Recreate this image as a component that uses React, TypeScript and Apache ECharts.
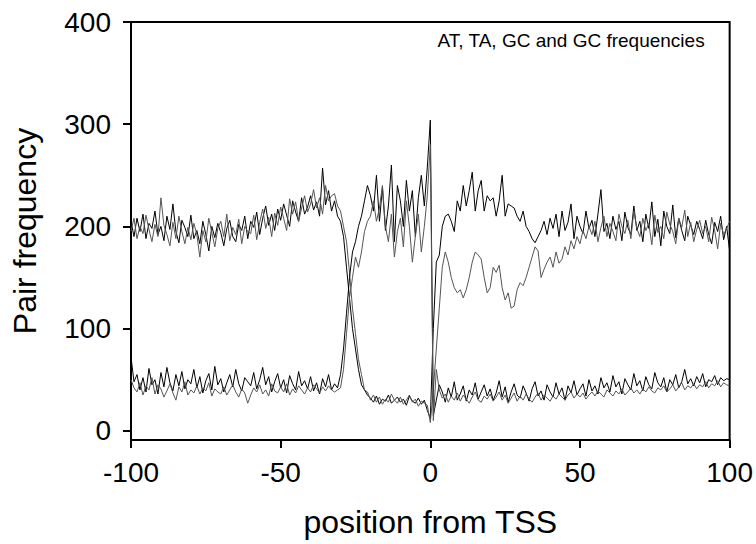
import React, { useEffect, useRef } from "react";
import * as echarts from "echarts";

const positions: number[] = Array.from({ length: 201 }, (_, i) => i - 100);

// AT: high upstream, drops near -27, rises after TSS (upper arc)
const seriesAT: number[] = [
  205, 190, 208, 195, 212, 188, 203, 198, 215, 192,
  200, 186, 210, 197, 222, 195, 184, 206, 199, 190,
  211, 188, 196, 183, 205, 192, 176, 200, 189, 203,
  194, 181, 198, 206, 190, 185, 202, 196, 210, 188,
  205, 199, 214, 192, 208, 220, 201, 212, 196, 217,
  206, 222, 211, 200, 225, 214, 205, 228, 212, 219,
  230, 216, 224, 210, 257, 221, 235, 215, 225, 210,
  205, 190, 160, 130, 100, 80, 60, 45, 40, 35,
  32, 28, 34, 26, 31, 29, 35, 27, 30, 33,
  28, 31, 25, 34, 29, 27, 32, 26, 30, 20,
  12, 100, 165, 172, 200, 210, 212, 205, 195, 225,
  215, 240, 220, 235, 253, 215, 235, 245, 215, 230,
  225, 228, 210, 225, 250, 210, 222, 220, 218, 210,
  205, 215, 200, 195, 188, 184, 190, 196, 205, 192,
  208, 198, 212, 190, 215, 196, 204, 222, 188, 210,
  200, 193, 215, 198, 206, 190, 212, 236, 195, 203,
  188, 210, 197, 205, 186, 214, 199, 192, 220, 196,
  205, 185, 212, 198, 224, 190, 207, 181, 215, 200,
  193, 221, 189, 208, 196, 186, 210, 201, 192, 205,
  197, 188, 206, 192, 183, 204, 195, 210, 187, 200,
  176,
];

// TA: high upstream, drops near -27, rises after TSS (lower arc)
const seriesTA: number[] = [
  195, 208, 188, 200, 193, 211, 197, 185, 202, 190,
  228, 201, 192, 181, 204, 188, 210, 195, 183, 199,
  187, 203, 192, 170, 196, 185, 208, 194, 180, 198,
  205, 190, 212, 186, 199, 192, 207, 183, 200, 195,
  193, 211, 187, 204, 217, 198, 209, 190, 213, 201,
  219, 208, 196, 227, 212, 224, 205, 218, 230, 214,
  222, 236, 218, 228, 212, 240, 225, 230, 232, 220,
  215, 200, 185, 155, 120, 95, 70, 55, 40, 38,
  30, 35, 28, 33, 26, 31, 28, 36, 30, 27,
  33, 26, 30, 35, 28, 31, 24, 29, 27, 25,
  8, 40, 80, 120, 160, 175, 165, 150, 140, 135,
  138, 130, 138, 150, 165, 175, 172, 168, 150, 135,
  140, 160, 155, 162, 140, 128, 135, 120, 122, 138,
  145, 142, 150, 160, 170, 180, 176, 150, 158, 165,
  170, 160, 175, 164, 168, 180, 172, 186, 178, 190,
  183, 196, 188, 200, 192, 205, 185, 199, 210, 190,
  203, 195, 186, 212, 200, 193, 206, 188, 215, 198,
  190, 208, 196, 203, 182, 211, 194, 200, 188, 214,
  202, 195, 183, 208, 199, 216, 190, 204, 185, 197,
  206, 193, 200, 185, 209, 196, 178, 203, 192, 198,
  205,
];

// GC: low upstream, high between -25 and TSS, spike at 0, low downstream
const seriesGC: number[] = [
  72, 48, 55, 40, 52, 38, 61, 45, 50, 36,
  57, 43, 62, 47, 39, 55, 44, 58, 41, 50,
  46, 60, 42, 53, 37, 49, 56, 40, 63, 45,
  51, 38, 47, 55, 43, 60, 46, 39, 52, 48,
  44, 57, 41, 50, 62, 45, 53, 38, 48, 56,
  42, 50, 37, 54, 46, 40, 58, 44, 49, 41,
  53, 39, 47, 36, 51, 43, 55, 40, 46, 42,
  55, 80, 115, 150, 175, 185, 200, 210, 225, 240,
  230, 215, 250, 205, 238, 196, 220, 260, 185, 240,
  225, 200, 245, 215, 235, 190, 228, 250, 220, 258,
  304, 15, 30, 45, 38, 28, 42, 33, 48, 30,
  36, 44, 29, 40, 35, 47, 31, 38, 45, 34,
  41, 30, 37, 49, 33, 43, 28, 38, 46, 35,
  32, 44, 37, 29, 41, 48, 34, 39, 30, 45,
  38, 33, 47, 36, 42, 30, 44, 37, 49, 35,
  41, 46, 34, 50, 39, 44, 36, 52, 42, 47,
  38, 54, 43, 48, 36, 51, 45, 40, 56, 44,
  49, 39, 53, 45, 41, 57, 47, 43, 52, 38,
  50, 45, 55, 42, 48, 60, 46, 51, 44, 53,
  47, 56, 43, 50, 48, 54, 45, 52, 49, 51,
  50,
];

// CG: second low/high/low profile
const seriesCG: number[] = [
  50, 42, 38, 47, 35, 44, 40, 52, 36, 45,
  41, 33, 39, 46, 37, 30, 43, 38, 48, 35,
  40, 37, 44, 36, 42, 39, 47, 34, 41, 38,
  36, 43, 35, 40, 45, 38, 33, 41, 37, 27,
  35, 42, 38, 45, 36, 40, 34, 46, 39, 37,
  43, 38, 46, 35, 41, 37, 44, 40, 36, 42,
  38, 45, 41, 37, 43, 39, 44, 40, 38, 40,
  42, 60, 95, 130, 150, 170, 160, 175, 195, 205,
  210, 225, 205, 218, 240, 200, 185, 212, 170, 195,
  208, 180, 225, 200, 165, 190, 212, 175, 200, 230,
  280, 10, 60, 40, 32, 36, 28, 34, 30, 37,
  29, 35, 31, 27, 33, 38, 30, 28, 34, 31,
  36, 29, 33, 38, 30, 35, 27, 32, 37, 29,
  34, 30, 36, 31, 28, 33, 37, 30, 35, 32,
  29, 34, 31, 36, 33, 30, 35, 38, 32, 36,
  33, 37, 31, 35, 38, 34, 39, 36, 33, 40,
  37, 34, 39, 36, 41, 35, 38, 42, 37, 40,
  36, 41, 38, 43, 39, 37, 42, 40, 44, 38,
  41, 45, 39, 43, 47, 40, 44, 42, 46, 41,
  45, 43, 48, 42, 46, 44, 49, 43, 47, 45,
  44,
];

const yTicks: number[] = [0, 100, 200, 300, 400];
const seriesNames: string[] = ["AT", "TA", "GC", "CG"];
const seriesColors: string[] = ["#000000", "#555555", "#000000", "#555555"];

const FONT = '"Liberation Sans", Arial, sans-serif';

export default function App() {
  const ref = useRef<HTMLDivElement>(null);
  useEffect(() => {
    if (!ref.current) return;
    const chart = echarts.init(ref.current, null, { renderer: "svg" });
    const all = [seriesAT, seriesTA, seriesGC, seriesCG];
    chart.setOption({
      animation: false,
      backgroundColor: "#ffffff",
      textStyle: { fontFamily: FONT },
      title: {
        text: "AT, TA, GC and GC frequencies",
        right: 51,
        top: 31,
        padding: 0,
        textStyle: { fontFamily: FONT, fontSize: 19, fontWeight: "normal", color: "#000" },
      },
      grid: {
        left: 131,
        right: 26,
        top: 22,
        bottom: 104,
        show: true,
        borderColor: "#000",
        borderWidth: 2,
        containLabel: false,
      },
      xAxis: {
        type: "value",
        min: -100,
        max: 100,
        interval: 50,
        name: "position from TSS",
        nameLocation: "middle",
        nameGap: 66,
        nameTextStyle: { fontFamily: FONT, fontSize: 32, color: "#000" },
        axisLine: { show: true, onZero: false, lineStyle: { color: "#000", width: 2 } },
        axisTick: { show: true, inside: false, length: 8, lineStyle: { color: "#000", width: 2 } },
        axisLabel: { fontFamily: FONT, fontSize: 28, color: "#000", margin: 18 },
        splitLine: { show: false },
      },
      yAxis: {
        type: "value",
        min: -9,
        max: 400,
        name: "Pair frequency",
        nameLocation: "middle",
        nameGap: 90,
        nameRotate: 90,
        nameTextStyle: { fontFamily: FONT, fontSize: 32, color: "#000" },
        axisLine: { show: true, onZero: false, lineStyle: { color: "#000", width: 2 } },
        axisTick: {
          show: true,
          inside: false,
          length: 8,
          customValues: yTicks,
          lineStyle: { color: "#000", width: 2 },
        },
        axisLabel: {
          fontFamily: FONT,
          fontSize: 28,
          color: "#000",
          margin: 20,
          customValues: yTicks,
        },
        splitLine: { show: false },
      },
      series: all.map((vals, k) => ({
        name: seriesNames[k],
        type: "line",
        showSymbol: false,
        symbol: "none",
        data: positions.map((x, i) => [x, vals[i]]),
        lineStyle: { color: seriesColors[k], width: 1 },
        itemStyle: { color: seriesColors[k] },
        z: 2,
      })),
    });
    return () => chart.dispose();
  }, []);
  return (
    <div
      ref={ref}
      style={{ position: "fixed", left: 0, top: 0, width: 756, height: 544 }}
    />
  );
}
